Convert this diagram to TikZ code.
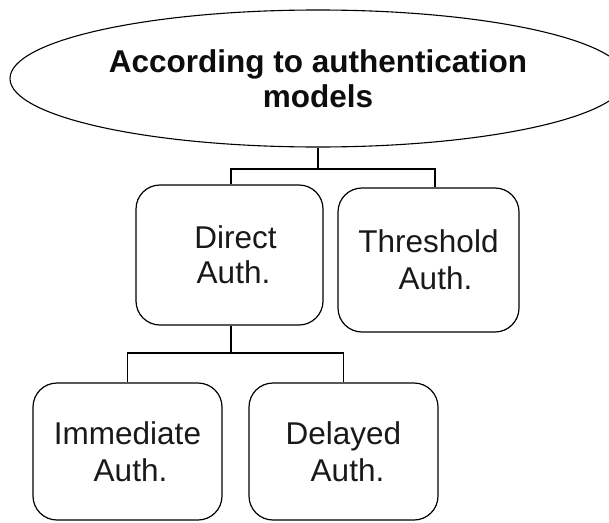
\documentclass[tikz,border=0pt]{standalone}
\usepackage{fontspec}
\setmainfont{Liberation Sans}
\usetikzlibrary{shapes.geometric}

\tikzset{
  link/.style={draw=black, line width=1.2pt},
  titleoval/.style={ellipse, draw=black, line width=1.1pt, inner sep=0pt,
    minimum width=616pt, minimum height=137pt, align=center,
    font=\bfseries\fontsize{31.5}{35.5}\selectfont, text=black!95},
  authbox/.style={rectangle, rounded corners=24pt, draw=black, line width=1.2pt,
    inner sep=0pt, align=center, font=\fontsize{31.5}{37}\selectfont, text=black!90}
}

\begin{document}
\begin{tikzpicture}[x=1pt, y=-1pt]
  % page frame, white background
  \fill[white] (0,0) rectangle (609,522);
  \useasboundingbox (0,0) rectangle (609,522);

  % root category
  \node[titleoval] (root) at (318,78.5) {According to authentication\\models};

  % first level
  \node[authbox, minimum width=187pt, minimum height=140pt] (direct) at (229.5,255)
    {\hspace*{12pt}Direct\\[-2pt]\hspace*{8pt}Auth.};
  \node[authbox, minimum width=181pt, minimum height=144pt] (thresh) at (428.5,260)
    {Threshold\\\hspace*{14pt}Auth.};

  % second level
  \node[authbox, minimum width=189pt, minimum height=137pt] (immed) at (127.5,451.5)
    {Immediate\\\hspace*{6pt}Auth.};
  \node[authbox, minimum width=189pt, minimum height=137pt] (delay) at (343.5,451.5)
    {Delayed\\\hspace*{8pt}Auth.};

  % junction points of the tree
  \coordinate (j1) at (318,169);
  \coordinate (j2) at (231,353);

  % connectors
  \draw[link] (root.south) -- (j1);
  \draw[link] ([xshift=1.5pt]direct.north) |- (j1) -| ([xshift=6.5pt]thresh.north);
  \draw[link] ([xshift=1.5pt]direct.south) -- (j2);
  \draw[link] (immed.north) |- (j2) -| (delay.north);
\end{tikzpicture}
\end{document}
